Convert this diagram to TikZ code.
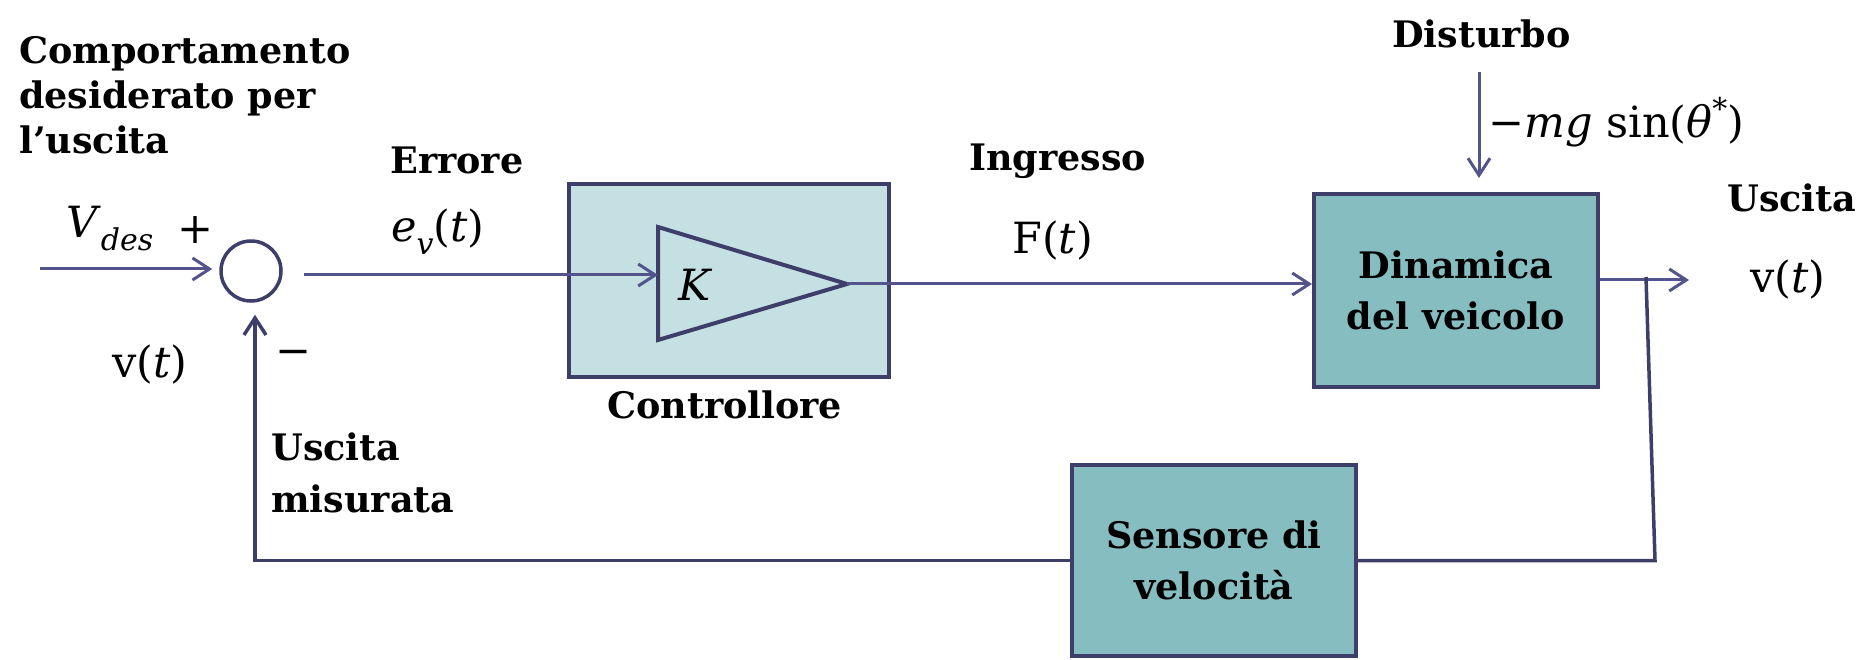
\documentclass[tikz,border=0pt]{standalone}
\usepackage{fontspec}
\newfontfamily\lbl{DejaVu Serif}
\usetikzlibrary{arrows.meta,calc}
\definecolor{sigc}{RGB}{84,84,140}
\definecolor{boxc}{RGB}{62,62,106}
\definecolor{fillA}{RGB}{197,224,226}
\definecolor{fillB}{RGB}{133,189,193}
\newcommand{\subx}[1]{\raisebox{-0.28em}{\fontsize{30}{30}\selectfont\itshape #1}}
\newcommand{\supx}[1]{\raisebox{0.42em}{\fontsize{30}{30}\selectfont #1}}
\tikzset{
  sig/.style={draw=sigc, line width=3pt},
  fb/.style={draw=boxc, line width=3.5pt},
  arr/.style={-{Straight Barb[length=17pt,width=22pt]}},
  blk/.style={draw=boxc, line width=4pt, rectangle, inner sep=0pt, align=center,
    font=\lbl\bfseries\fontsize{36.5}{51}\selectfont},
  lab/.style={inner sep=0pt, anchor=base west, font=\lbl\bfseries\fontsize{36.5}{45}\selectfont},
  mth/.style={inner sep=0pt, anchor=base west, font=\lbl\fontsize{43}{50}\selectfont},
}
\begin{document}
\begin{tikzpicture}[x=1pt,y=-1pt]
\useasboundingbox (0,0) rectangle (1876,660);
% blocks
\node[blk, fill=fillA, minimum width=320pt, minimum height=193pt] (ctrl) at (729,280.5) {};
\node[blk, fill=fillB, minimum width=284pt, minimum height=193pt] (dyn) at (1456,290.5) {Dinamica\\del veicolo};
\node[blk, fill=fillB, minimum width=284pt, minimum height=191pt] (sens) at (1214,560.5) {Sensore di\\velocità};
\node[circle, draw=boxc, line width=3.5pt, minimum size=60pt, inner sep=0pt] (sum) at (251,271) {};
% gain triangle
\coordinate (triin) at (658,275);
\coordinate (triout) at (847,284);
\draw[boxc, line width=4pt] (658,227) -- (847,284) -- (658,340) -- cycle;
\node[mth] (K) at (678,301) {\itshape K};
% coordinates
\coordinate (vin) at (40,269);
\coordinate (out) at (1689,280);
\coordinate (br) at (1646,277);
\coordinate (brd) at (1655,560.5);
\coordinate (dtop) at (1479,72);
% connectors
\draw[sig, arr, shorten >=7pt] (vin) -- (vin -| sum.west);
\draw[sig, arr] ($(sum.east)+(21,4)$) -- (triin);
\draw[sig, arr] (triout) -- (triout -| dyn.west);
\draw[sig, arr] (dyn.east |- out) -- (out);
\draw[sig, arr, shorten >=14pt] (dtop) -- (dtop |- dyn.north);
\draw[fb] (br) -- (brd) -- (sens.east);
\draw[fb, arr, shorten >=12pt] (sens.west) -| ([xshift=4pt]sum.south);
% labels
\node[lab] (comp) at (19,64) {\vtop{\hbox{Comportamento}\hbox{desiderato per}\hbox{l’uscita}}};
\node[mth] (vdes) at (66,238) {\textit{V}\subx{des}};
\node[inner sep=0pt, font=\lbl\fontsize{43}{50}\selectfont] (plus) at (196,230) {+};
\node[inner sep=0pt, font=\lbl\fontsize{43}{50}\selectfont] (minus) at (294,358) {−};
\node[mth] (vfb) at (112,377) {v(\textit{t})};
\node[lab] (err) at (390,174) {Errore};
\node[mth] (ev) at (391,242) {\textit{e}\subx{v}(\textit{t})};
\node[lab] (usm) at (271,460) {\vtop{\baselineskip=52pt\hbox{Uscita}\hbox{misurata}}};
\node[lab] (ctl) at (607,418) {Controllore};
\node[lab] (ing) at (969,171) {Ingresso};
\node[mth] (F) at (1012,254) {F(\textit{t})};
\node[lab] (dist) at (1392,48) {Disturbo};
\node[mth] (mg) at (1488,138) {−\textit{mg} sin(\textit{θ}\supx{*})};
\node[lab] (usc) at (1727,212) {Uscita};
\node[mth] (vout) at (1750,293) {v(\textit{t})};
\end{tikzpicture}
\end{document}
